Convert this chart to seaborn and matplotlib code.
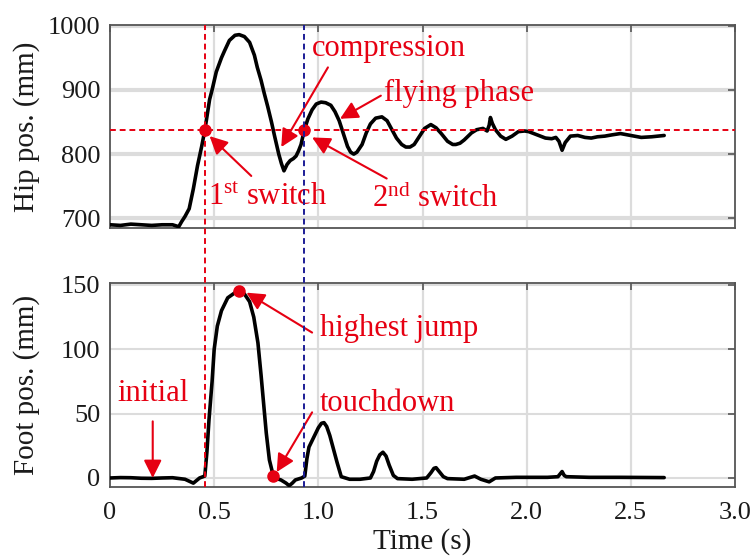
import matplotlib
matplotlib.use("Agg")
import matplotlib.pyplot as plt
import seaborn as sns
import pandas as pd
from matplotlib import transforms
from matplotlib.lines import Line2D

# ---- measured trajectories -------------------------------------------------
hip_time = [0, 0.05, 0.10, 0.15, 0.20, 0.25, 0.30, 0.33, 0.344, 0.36, 0.38,
            0.40, 0.42, 0.44, 0.455, 0.478, 0.49, 0.51, 0.535, 0.55, 0.573,
            0.60, 0.62, 0.645, 0.67, 0.693, 0.707, 0.725, 0.74, 0.757, 0.775,
            0.79, 0.81, 0.823, 0.835, 0.85, 0.865, 0.88, 0.893, 0.905, 0.917,
            0.932, 0.95, 0.97, 0.99, 1.013, 1.035, 1.06, 1.08, 1.10, 1.12,
            1.14, 1.155, 1.17, 1.185, 1.21, 1.23, 1.25, 1.275, 1.305, 1.33,
            1.35, 1.375, 1.40, 1.42, 1.44, 1.46, 1.48, 1.51, 1.54, 1.565,
            1.59, 1.62, 1.645, 1.66, 1.68, 1.70, 1.735, 1.76, 1.79, 1.81,
            1.82, 1.826, 1.835, 1.85, 1.875, 1.90, 1.93, 1.96, 1.99, 2.01,
            2.05, 2.09, 2.12, 2.14, 2.155, 2.17, 2.185, 2.21, 2.245, 2.28,
            2.31, 2.34, 2.375, 2.41, 2.45, 2.50, 2.55, 2.60, 2.66]
hip_pos = [690, 689, 691, 690, 689, 690, 690, 687, 695, 703, 715,
           746, 782, 812, 837, 885, 900, 928, 950, 961, 977,
           985, 986, 983, 974, 954, 935, 915, 895, 874, 850,
           828, 800, 785, 774, 784, 790, 793, 797, 805, 815,
           837, 855, 869, 878, 881, 880, 876, 866, 852, 832,
           812, 803, 800, 803, 815, 833, 847, 856, 858, 852,
           840, 825, 815, 811, 811, 815, 825, 840, 846, 841,
           832, 820, 815, 815, 817, 822, 833, 838, 840, 836,
           845, 857, 848, 838, 828, 823, 828, 835, 836, 835,
           830, 825, 824, 826, 820, 806, 818, 828, 829, 826,
           825, 827, 828, 830, 832, 829, 826, 827, 829]

foot_time = [0, 0.05, 0.10, 0.15, 0.20, 0.25, 0.30, 0.36, 0.40, 0.43, 0.455,
             0.465, 0.475, 0.49, 0.50, 0.515, 0.535, 0.565, 0.60, 0.62, 0.645,
             0.67, 0.69, 0.71, 0.725, 0.735, 0.75, 0.765, 0.784, 0.80, 0.82,
             0.845, 0.86, 0.875, 0.89, 0.92, 0.935, 0.945, 0.955, 0.97, 0.985,
             1.00, 1.015, 1.027, 1.04, 1.055, 1.07, 1.09, 1.11, 1.15, 1.20,
             1.25, 1.265, 1.28, 1.295, 1.31, 1.325, 1.34, 1.36, 1.38, 1.45,
             1.52, 1.54, 1.555, 1.565, 1.58, 1.60, 1.62, 1.70, 1.75, 1.78,
             1.82, 1.85, 1.95, 2.10, 2.15, 2.165, 2.17, 2.18, 2.19, 2.30,
             2.45, 2.66]
foot_pos = [0, 0.3, 0.2, -0.2, -0.3, 0, 0.2, -1, -4, 0, 1.5,
            20, 45, 75, 100, 118, 130, 140, 144, 145, 143,
            137, 125, 105, 80, 62, 35, 14, 1.5, -0.5, -1.5,
            -4, -6, -4, -1.5, 0, 1.5, 15, 24, 29, 34,
            39, 42.5, 43, 40, 33, 24, 12, 1, -1, -1,
            0, 5, 13, 18, 20, 17, 10, 2, -0.5, -1,
            0, 4, 7.5, 8, 5, 1, -0.5, -1, 1.5, -1,
            -3, 0, 0.5, 0.5, 1, 4, 5, 2, 1, 0.5,
            0.5, 0.3]

# ---- events ------------------------------------------------------------------
switch_times = [0.455, 0.932]      # 1st / 2nd switch
switch_level = 837                 # hip height at which switching happens
highest_jump = (0.62, 145)
touchdown = (0.784, 1.5)

x_ticks = [0, 0.5, 1.0, 1.5, 2.0, 2.5, 3.0]
x_tick_labels = ["0", "0.5", "1.0", "1.5", "2.0", "2.5", "3.0"]
hip_ticks = [700, 800, 900, 1000]
foot_ticks = [0, 50, 100, 150]

hip_df = pd.DataFrame({"t": hip_time, "pos": hip_pos})
foot_df = pd.DataFrame({"t": foot_time, "pos": foot_pos})

# ---- style ---------------------------------------------------------------------
sns.set_theme(style="white")
plt.rcParams["font.family"] = ["Liberation Serif", "DejaVu Serif"]
plt.rcParams["mathtext.fontset"] = "custom"
plt.rcParams["mathtext.rm"] = "Liberation Serif"
plt.rcParams["mathtext.it"] = "Liberation Serif:italic"

RED = "#e60012"
BLUE = "#1c1c96"
GRID = "#dcdcdc"
TXT = "#1a1a1a"
TICK_FS = 19
LABEL_FS = 21
NOTE_FS = 22

fig = plt.figure(figsize=(7.52, 5.57), dpi=100)
left, width = 0.1463, 0.8311
ax1 = fig.add_axes([left, 0.5907, width, 0.3644])
ax2 = fig.add_axes([left, 0.1257, width, 0.3662])

sns.lineplot(data=hip_df, x="t", y="pos", ax=ax1, color="black", lw=2.6,
             estimator=None, sort=False, zorder=4)
sns.lineplot(data=foot_df, x="t", y="pos", ax=ax2, color="black", lw=2.6,
             estimator=None, sort=False, zorder=4)

for ax, ylim, yt, ylabel, hgrid_lw in [
        (ax1, (685, 1001), hip_ticks, "Hip pos. (mm)", 3.0),
        (ax2, (-7, 151.5), foot_ticks, "Foot pos. (mm)", 1.5)]:
    ax.set_xlim(0, 3.0)
    ax.set_ylim(*ylim)
    ax.set_xticks(x_ticks)
    ax.set_yticks(yt)
    for xv in x_ticks[1:-1]:
        ax.axvline(xv, color=GRID, lw=1.6, zorder=0)
    for yv in yt:
        ax.axhline(yv, color=GRID, lw=hgrid_lw, zorder=0)
    ax.tick_params(direction="in", top=True, right=True, length=5, width=1.2,
                   color="#555555", labelsize=TICK_FS, labelcolor=TXT, pad=7)
    for s in ax.spines.values():
        s.set_color("#555555")
        s.set_linewidth(1.3)
    ax.set_ylabel(ylabel, fontsize=LABEL_FS, color=TXT)
    ax.yaxis.set_label_coords(-0.112, 0.5)
    ax.set_xlabel("")

ax1.set_xticklabels([])
ax2.set_xticklabels(x_tick_labels)
ax2.tick_params(axis="x", pad=11)
ax2.set_xlabel("Time (s)", fontsize=LABEL_FS, color=TXT, labelpad=3)

# switching instants span both panels
span = transforms.blended_transform_factory(ax2.transData, fig.transFigure)
for tt, col in zip(switch_times, [RED, BLUE]):
    fig.add_artist(Line2D([tt, tt], [0.1257, 0.9551], transform=span,
                          color=col, lw=1.4, ls=(0, (3, 2)), zorder=5))
ax1.axhline(switch_level, color=RED, lw=1.4, ls=(0, (3, 2)), zorder=5)

# event markers
ax1.plot(switch_times, [switch_level] * 2, "o", color=RED, ms=8, zorder=6)
ax2.plot([highest_jump[0], touchdown[0]], [highest_jump[1], touchdown[1]],
         "o", color=RED, ms=8, zorder=6)

arrow = dict(arrowstyle="-|>,head_length=0.9,head_width=0.45", color=RED,
             lw=1.5, shrinkA=0, shrinkB=0)


def callout(ax, text, text_xy, tail, head):
    ax.annotate("", xy=head, xytext=tail, arrowprops=arrow, zorder=7)
    ax.text(*text_xy, text, color=RED, fontsize=NOTE_FS, ha="left",
            va="center", zorder=7)


callout(ax1, "compression", (0.97, 964), (1.046, 935), (0.822, 811))
callout(ax1, "flying phase", (1.314, 894), (1.30, 891), (1.104, 855))
callout(ax1, r"1$^{\mathrm{st}}$ switch", (0.468, 733), (0.678, 766), (0.478, 828))
callout(ax1, r"2$^{\mathrm{nd}}$ switch", (1.257, 730), (1.328, 762), (0.97, 826))
callout(ax2, "highest jump", (1.008, 116), (0.97, 113), (0.655, 144))
callout(ax2, "touchdown", (1.008, 58), (0.97, 51), (0.80, 4.6))
callout(ax2, "initial", (0.033, 66), (0.205, 44), (0.205, 0))

fig.savefig("out.png", dpi=100)
